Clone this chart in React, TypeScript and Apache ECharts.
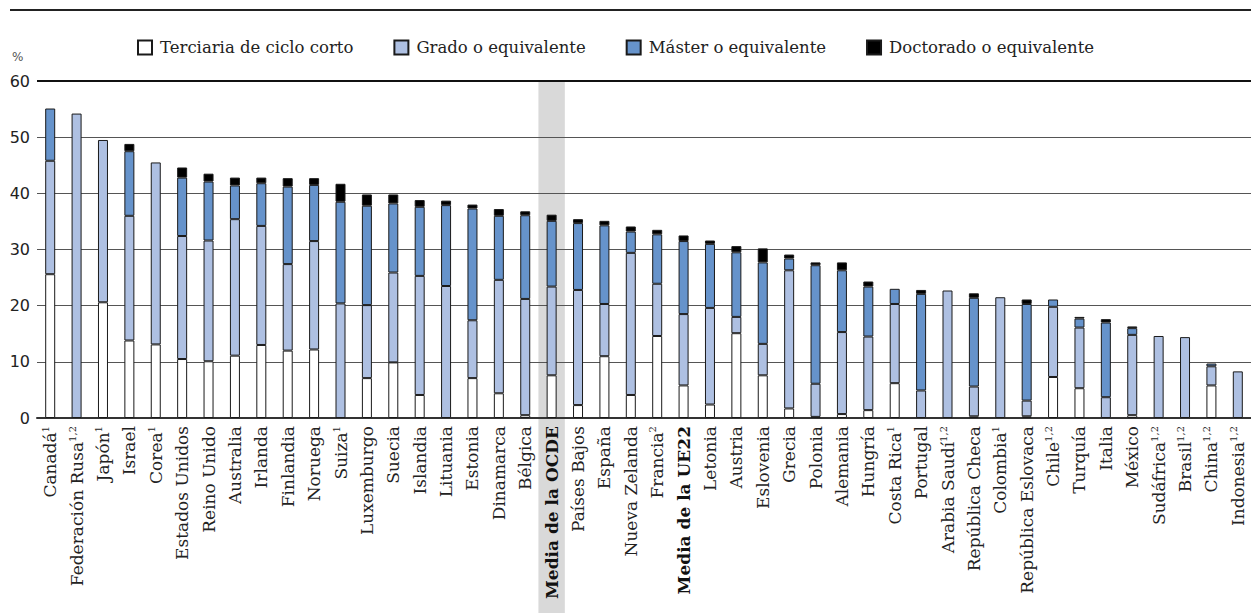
import React, { useEffect, useRef } from "react";
import * as echarts from "echarts";

const categories = [
  "Canadá", "Federación Rusa", "Japón", "Israel", "Corea", "Estados Unidos", "Reino Unido",
  "Australia", "Irlanda", "Finlandia", "Noruega", "Suiza", "Luxemburgo", "Suecia", "Islandia",
  "Lituania", "Estonia", "Dinamarca", "Bélgica", "Media de la OCDE", "Países Bajos", "España",
  "Nueva Zelanda", "Francia", "Media de la UE22", "Letonia", "Austria", "Eslovenia", "Grecia",
  "Polonia", "Alemania", "Hungría", "Costa Rica", "Portugal", "Arabia Saudí", "República Checa",
  "Colombia", "República Eslovaca", "Chile", "Turquía", "Italia", "México", "Sudáfrica", "Brasil",
  "China", "Indonesia",
];

const notes = [
  "1", "1,2", "1", "", "1", "", "", "", "", "", "", "1", "", "", "",
  "", "", "", "", "", "", "",
  "", "2", "", "", "", "", "",
  "", "", "", "1", "", "1,2", "",
  "1", "", "1,2", "", "", "", "1,2", "1,2",
  "1,2", "1,2",
];

const boldCategories = ["Media de la OCDE", "Media de la UE22"];
const highlightCategory = "Media de la OCDE";

const seriesNames = [
  "Terciaria de ciclo corto",
  "Grado o equivalente",
  "Máster o equivalente",
  "Doctorado o equivalente",
];

const shortCycle = [
  25.6, 0, 20.6, 13.8, 13.1, 10.5, 10.1, 11.1, 13.0, 12.0, 12.2, 0, 7.1, 9.9, 4.1,
  0, 7.1, 4.4, 0.5, 7.6, 2.3, 11.0, 4.1, 14.6, 5.8, 2.4, 15.1, 7.6, 1.7,
  0.2, 0.7, 1.4, 6.2, 0, 0, 0.3, 0, 0.3, 7.3, 5.3, 0, 0.5, 0, 0, 5.8, 0,
];
const bachelor = [
  20.2, 54.2, 28.9, 22.2, 32.4, 21.9, 21.5, 24.3, 21.2, 15.4, 19.3, 20.4, 13.0, 16.0, 21.2,
  23.5, 10.3, 20.2, 20.7, 15.8, 20.5, 9.3, 25.3, 9.3, 12.7, 17.2, 2.9, 5.6, 24.6,
  5.9, 14.6, 13.1, 14.1, 4.9, 22.7, 5.3, 21.5, 2.8, 12.5, 10.8, 3.7, 14.3, 14.6, 14.4, 3.4, 8.3,
];
const master = [
  9.3, 0, 0, 11.5, 0, 10.4, 10.5, 6.0, 7.6, 13.8, 10.0, 18.1, 17.7, 12.3, 12.3,
  14.4, 19.9, 11.4, 14.9, 11.7, 11.9, 14.0, 3.8, 8.8, 13.0, 11.4, 11.5, 14.5, 2.1,
  21.1, 11.0, 8.9, 2.7, 17.2, 0, 15.8, 0, 17.2, 1.3, 1.6, 13.3, 1.2, 0, 0, 0.5, 0,
];
const doctoral = [
  0, 0, 0, 1.3, 0, 1.8, 1.4, 1.4, 1.0, 1.5, 1.2, 3.2, 2.0, 1.6, 1.2,
  0.8, 0.7, 1.2, 0.7, 1.1, 0.7, 0.8, 0.9, 0.8, 1.0, 0.6, 1.1, 2.5, 0.7,
  0.5, 1.4, 0.9, 0, 0.7, 0, 0.8, 0, 0.8, 0, 0.3, 0.6, 0.3, 0, 0, 0, 0,
];

const seriesValues = [shortCycle, bachelor, master, doctoral];
const seriesColors = ["#ffffff", "#aec0e2", "#6693cb", "#000000"];

const Y_MIN = 0;
const Y_MAX = 60;
const Y_INTERVAL = 10;

const SERIF = "'DejaVu Serif', serif";
const SANS = "'DejaVu Sans', sans-serif";
const FS = 16.5;
const LFS = 17;

export default function App() {
  const ref = useRef<HTMLDivElement>(null);

  useEffect(() => {
    if (!ref.current) return;
    const chart = echarts.init(ref.current, null, { renderer: "svg" });

    const series: any[] = seriesValues.map((vals, i) => ({
      name: seriesNames[i],
      type: "bar",
      stack: "total",
      barWidth: 10,
      data: vals.map((v) => (v === 0 ? null : v)),
      itemStyle: {
        color: seriesColors[i],
        borderColor: "#1a1a1a",
        borderWidth: 1,
      },
      emphasis: { disabled: true },
      ...(i === 0
        ? {
            markLine: {
              silent: true,
              symbol: ["none", "none"],
              label: { show: false },
              lineStyle: { color: "#111", width: 2, type: "solid" },
              data: [{ yAxis: Y_MAX }],
            },
          }
        : {}),
    }));

    const option: any = {
      animation: false,
      backgroundColor: "#ffffff",
      legend: {
        left: 137,
        top: 39,
        padding: 0,
        itemWidth: 14,
        itemHeight: 14,
        itemGap: 40,
        icon: "rect",
        selectedMode: false,
        data: seriesNames,
        textStyle: {
          fontFamily: SERIF,
          fontSize: FS,
          color: "#222",
          padding: [0, 0, 0, 3],
        },
      },
      grid: {
        left: 37,
        top: 81,
        width: 1223,
        height: 337,
        containLabel: false,
      },
      xAxis: {
        type: "category",
        data: categories,
        axisLine: { show: true, lineStyle: { color: "#333", width: 2 } },
        axisTick: { show: false },
        axisLabel: {
          interval: 0,
          rotate: 90,
          margin: 8,
          fontFamily: SERIF,
          fontSize: LFS,
          color: "#222",
          formatter: (value: string, idx: number) => {
            if (boldCategories.includes(value)) return `{b|${value}}`;
            const n = notes[idx];
            return n ? `{n|${value}}{s|${n}}` : `{n|${value}}`;
          },
          rich: {
            n: { fontFamily: SERIF, fontSize: LFS, color: "#222", lineHeight: 19 },
            b: { fontFamily: SERIF, fontSize: LFS, color: "#111", fontWeight: "bold", lineHeight: 19 },
            s: { fontFamily: SERIF, fontSize: 10, color: "#222", verticalAlign: "top", lineHeight: 19 },
          },
        },
      },
      yAxis: {
        type: "value",
        min: Y_MIN,
        max: Y_MAX,
        interval: Y_INTERVAL,
        axisLine: { show: false },
        axisTick: { show: false },
        axisLabel: {
          margin: 7,
          fontFamily: SANS,
          fontSize: 16,
          color: "#222",
        },
        splitLine: { show: true, lineStyle: { color: "#555", width: 1 } },
      },
      graphic: [
        {
          type: "line",
          shape: { x1: 10, y1: 10, x2: 1251, y2: 10 },
          style: { stroke: "#222", lineWidth: 2 },
        },
        {
          type: "text",
          x: 12,
          y: 51,
          style: { text: "%", fontFamily: SANS, fontSize: 12, fill: "#555" },
        },
      ],
      series,
    };

    chart.setOption(option);

    const cx = chart.convertToPixel({ xAxisIndex: 0 }, highlightCategory) as number;
    const c0 = chart.convertToPixel({ xAxisIndex: 0 }, categories[0]) as number;
    const c1 = chart.convertToPixel({ xAxisIndex: 0 }, categories[1]) as number;
    const band = c1 - c0;
    const top = chart.convertToPixel({ yAxisIndex: 0 }, Y_MAX) as number;
    chart.setOption({
      graphic: [
        option.graphic[0],
        option.graphic[1],
        {
          type: "rect",
          z: -10,
          shape: { x: cx - band / 2, y: top, width: band, height: 613 - top },
          style: { fill: "#d9d9d9" },
          silent: true,
        },
      ],
    });

    return () => chart.dispose();
  }, []);

  return (
    <div
      ref={ref}
      style={{ position: "absolute", left: 0, top: 0, width: 1251, height: 613 }}
    />
  );
}
